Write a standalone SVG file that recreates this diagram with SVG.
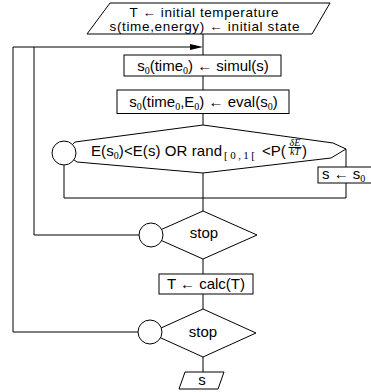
<svg xmlns="http://www.w3.org/2000/svg" width="371" height="392" viewBox="0 0 371 392">
<style>
.s{fill:#fff;stroke:#000;stroke-width:1}
.c{fill:none;stroke:#000;stroke-width:1}
text{font-family:"Liberation Sans",Arial,sans-serif;font-size:15px;fill:#000}
.t{font-size:13.5px}
.m{text-anchor:middle}
.sub{font-family:"Liberation Serif","Times New Roman",serif;font-size:10px}
.sb{font-family:"Liberation Serif","Times New Roman",serif;font-size:11px}
.fr{font-family:"Liberation Serif","Times New Roman",serif;font-style:italic;font-size:10px;text-anchor:middle}
</style>
<g id="connectors">
<path class="c" d="M203,34 V55 M203,76 V90 M203,113.5 V125 M203,173 V211 M203,259 V274 M203,294 V309 M203,357 V372"/>
<path class="c" d="M13,332 H138 M13,332 V47 H191"/>
<polygon points="190,44 203,47 190,50" fill="#000"/>
<path class="c" d="M34,47 V235 H139"/>
<path class="c" d="M64,165 V198 H346 V183 M346,149 V167"/>
</g>
<g id="init">
<polygon class="s" points="110,3 330,3 312,34 87,34"/>
<text class="m t" x="204" y="17" textLength="149" lengthAdjust="spacing">T ← initial temperature</text>
<text class="m t" x="204.5" y="31" textLength="190" lengthAdjust="spacing">s(time,energy) ← initial state</text>
</g>
<g id="simul">
<rect class="s" x="124" y="55" width="157" height="21"/>
<text class="m" x="203" y="71">s<tspan class="sub" dy="3">0</tspan><tspan dy="-3">(time</tspan><tspan class="sub" dy="3">0</tspan><tspan dy="-3">) ← simul(s)</tspan></text>
</g>
<g id="eval">
<rect class="s" x="117" y="90" width="172" height="23.5"/>
<text class="m" x="203.5" y="107">s<tspan class="sub" dy="3">0</tspan><tspan dy="-3">(time</tspan><tspan class="sub" dy="3">0</tspan><tspan dy="-3">,E</tspan><tspan class="sub" dy="3">0</tspan><tspan dy="-3">) ← eval(s</tspan><tspan class="sub" dy="3">0</tspan><tspan dy="-3">)</tspan></text>
</g>
<g id="accept">
<polygon class="s" points="203,125 333,143 346,149 331,158 203,173 77,162 64,153 75,142"/>
<circle class="s" cx="64" cy="153" r="12"/>
<text x="91" y="156" textLength="131" lengthAdjust="spacing">E(s<tspan class="sub" dy="3">0</tspan><tspan dy="-3">)&lt;E(s) OR rand</tspan></text>
<text class="sb" x="224" y="159" textLength="31" lengthAdjust="spacing">[0,1[</text>
<text x="262" y="156">&lt;P(</text>
<text class="fr" x="295" y="145.5">δE</text>
<line class="c" x1="288.5" y1="147.5" x2="301.5" y2="147.5"/>
<text class="fr" x="295" y="155">kT</text>
<text x="302" y="156">)</text>
</g>
<g id="assign">
<rect class="s" x="318" y="167" width="55" height="16"/>
<text x="322" y="179">s ← s<tspan class="sub" dy="3">0</tspan></text>
</g>
<g id="stop1">
<polygon class="s" points="203,211 257,235 203,259 149,235"/>
<circle class="s" cx="151" cy="235" r="12"/>
<text class="m" x="204" y="238">stop</text>
</g>
<g id="calc">
<rect class="s" x="159" y="274" width="94" height="20"/>
<text class="m" x="206" y="289">T ← calc(T)</text>
</g>
<g id="stop2">
<polygon class="s" points="203,309 256,333 203,357 150,333"/>
<circle class="s" cx="150" cy="332" r="12"/>
<text class="m" x="203" y="337">stop</text>
</g>
<g id="output">
<polygon class="s" points="185,372 224,372 218,389 179,389"/>
<text class="m" x="202" y="385">s</text>
</g>
</svg>
